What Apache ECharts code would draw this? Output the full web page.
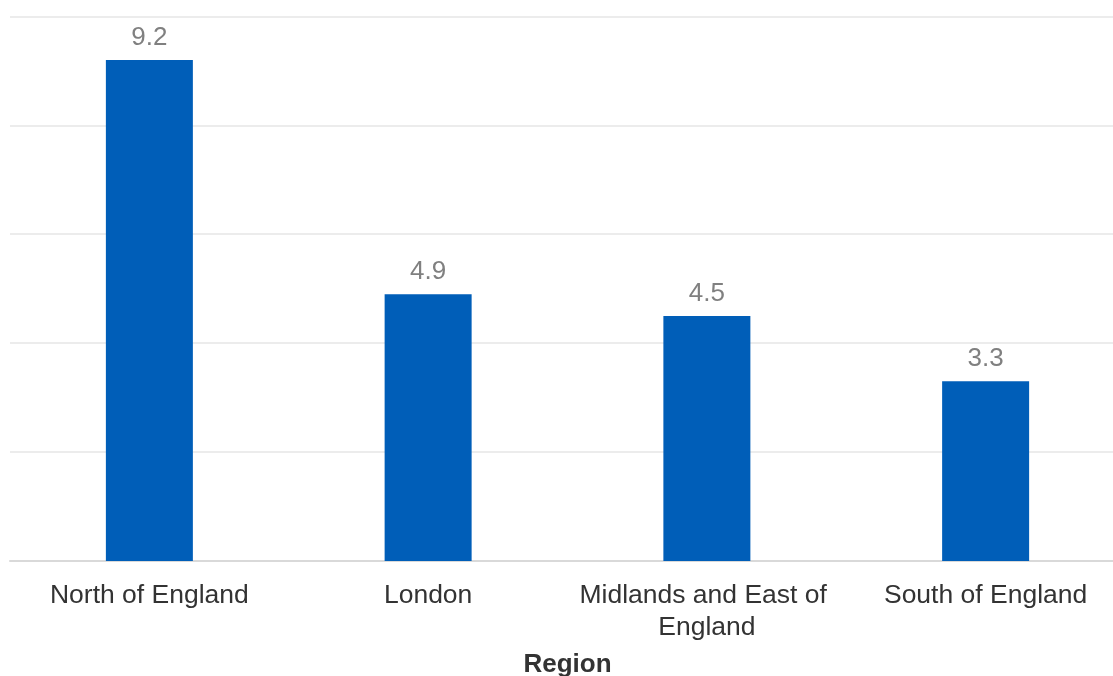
<!DOCTYPE html>
<html><head><meta charset="utf-8">
<script src="https://cdn.jsdelivr.net/npm/echarts@6/dist/echarts.min.js"></script>
<style>html,body{margin:0;padding:0;background:#fff}#c{width:1113px;height:676px}</style>
</head><body><div id="c"></div>
<script>
const categories = ["North of England", "London", "Midlands and East of England", "South of England"];
const values = [9.2, 4.9, 4.5, 3.3];
const axisTitle = "Region";

const chart = echarts.init(document.getElementById('c'));
chart.setOption({
  animation: false,
  grid: { left: 10, right: -12, top: 16.4, bottom: 115, containLabel: false, outerBoundsMode: 'none' },
  xAxis: {
    type: 'category', data: categories,
    name: axisTitle, nameLocation: 'middle', nameGap: 91,
    nameTextStyle: { fontFamily: 'Liberation Sans', fontSize: 26, fontWeight: 'bold', color: '#333333' },
    axisLine: { lineStyle: { color: '#d9d9d9', width: 2 } },
    axisTick: { show: false },
    axisLabel: { fontFamily: 'Liberation Sans', fontSize: 26.5, color: '#333333', margin: 19, lineHeight: 32, width: 262, overflow: 'break', interval: 0 }
  },
  yAxis: {
    type: 'value', min: 0, max: 10, interval: 2,
    axisLabel: { show: false }, axisLine: { show: false }, axisTick: { show: false },
    splitLine: { lineStyle: { color: '#ececec', width: 2 } }
  },
  series: [{
    type: 'bar', data: values, barWidth: 87,
    itemStyle: { color: '#005EB8' },
    label: { show: true, position: 'top', distance: 9, fontFamily: 'Liberation Sans', fontSize: 26, color: '#808080' }
  }]
});
</script></body></html>
